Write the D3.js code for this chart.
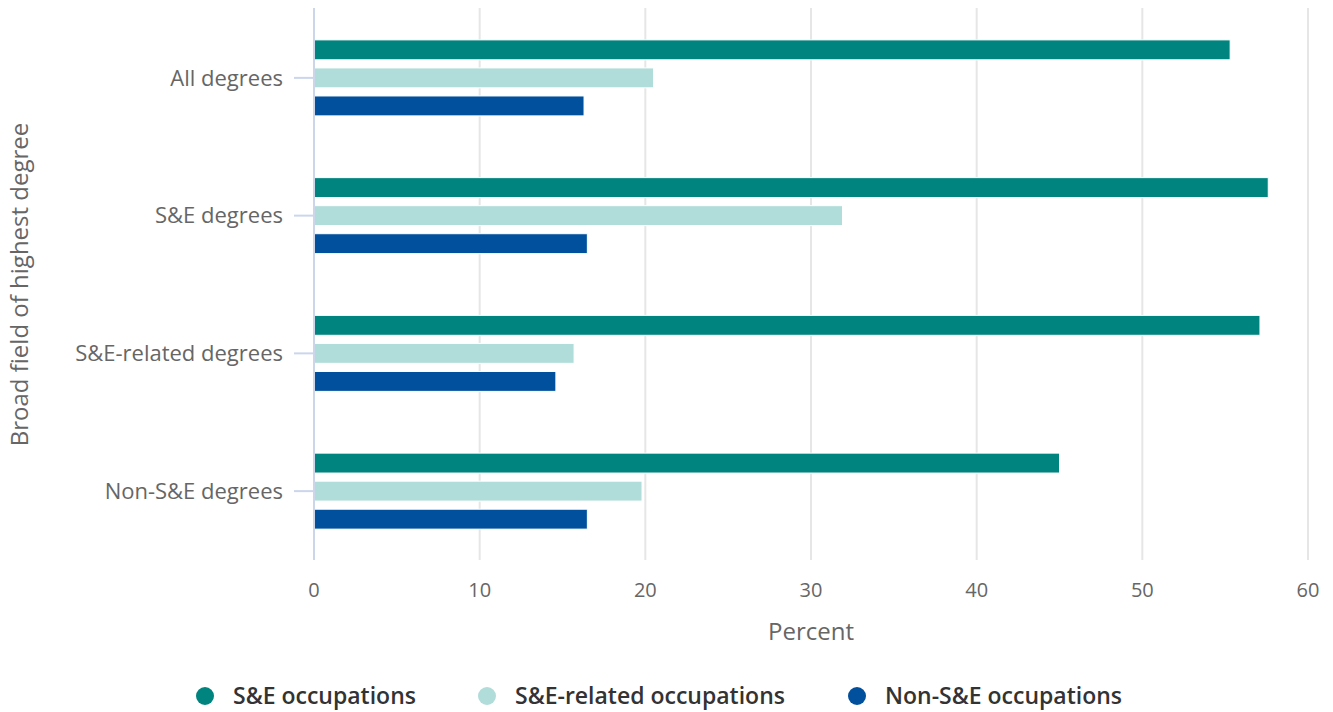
<!DOCTYPE html>
<html><head><meta charset="utf-8">
<script src="https://cdn.jsdelivr.net/npm/d3@7"></script>
<style>body{margin:0;background:#fff}svg{display:block;font-family:"Open Sans",sans-serif}</style>
</head><body><svg id="c" width="1333" height="712"></svg>
<script>
const categories = ["All degrees","S&E degrees","S&E-related degrees","Non-S&E degrees"];
const seriesNames = ["S&E occupations","S&E-related occupations","Non-S&E occupations"];
const seOcc = [55.3, 57.6, 57.1, 45.0];
const seRelOcc = [20.5, 31.9, 15.7, 19.8];
const nonSeOcc = [16.3, 16.5, 14.6, 16.5];
const xTicks = [0,10,20,30,40,50,60];
const colors = ["#00847f","#b0ddd9","#00509d"];
const series = [seOcc, seRelOcc, nonSeOcc];

const svg = d3.select("#c");
const pLeft = 314, pRight = 1308, pTop = 9, pBottom = 560;
const x = d3.scaleLinear().domain([0,60]).range([pLeft,pRight]);
const y = d3.scaleBand().domain(categories).range([pTop,pBottom]).paddingInner(0).paddingOuter(0);
const inner = d3.scaleBand().domain(d3.range(3)).range([0,76]).paddingInner(0.29);
const off = (y.bandwidth()-76)/2;

// gridlines
svg.append("g").selectAll("line").data(xTicks.slice(1)).join("line")
  .attr("x1",d=>x(d)).attr("x2",d=>x(d)).attr("y1",pTop-1).attr("y2",pBottom)
  .attr("stroke","#e6e6e6").attr("stroke-width",2);

// bars
categories.forEach((c,ci)=>{
  series.forEach((s,si)=>{
    svg.append("rect")
      .attr("x",x(0)).attr("y",y(c)+off+inner(si))
      .attr("width",x(s[ci])-x(0)).attr("height",inner.bandwidth())
      .attr("fill",colors[si]).attr("stroke","#fff").attr("stroke-width",1);
  });
});

// y axis
svg.append("line").attr("x1",pLeft).attr("x2",pLeft).attr("y1",pTop-1).attr("y2",pBottom)
  .attr("stroke","#ccd6eb").attr("stroke-width",2);
const yg = svg.append("g");
categories.forEach(c=>{
  const cy = y(c)+y.bandwidth()/2;
  yg.append("line").attr("x1",294).attr("x2",pLeft).attr("y1",cy).attr("y2",cy)
    .attr("stroke","#ccd6eb").attr("stroke-width",2);
  yg.append("text").attr("x",283).attr("y",cy).attr("dy","0.35em").attr("text-anchor","end")
    .attr("font-size",22).attr("fill","#666").text(c);
});

// x tick labels
svg.append("g").selectAll("text").data(xTicks).join("text")
  .attr("x",d=>x(d)).attr("y",597).attr("text-anchor","middle")
  .attr("font-size",20).attr("fill","#666").text(d=>d);

// axis titles
svg.append("text").attr("x",(pLeft+pRight)/2).attr("y",640).attr("text-anchor","middle")
  .attr("font-size",24).attr("fill","#666").text("Percent");
svg.append("text").attr("transform",`translate(28,${(pTop+pBottom)/2}) rotate(-90)`)
  .attr("text-anchor","middle").attr("font-size",24).attr("fill","#666")
  .text("Broad field of highest degree");

// legend
const legX = [205, 487, 857];
seriesNames.forEach((n,i)=>{
  svg.append("circle").attr("cx",legX[i]).attr("cy",696).attr("r",9).attr("fill",colors[i]);
  svg.append("text").attr("x",legX[i]+28).attr("y",696).attr("dy","0.35em")
    .attr("font-size",23).attr("font-weight",600).attr("fill","#333").text(n);
});
</script></body></html>
